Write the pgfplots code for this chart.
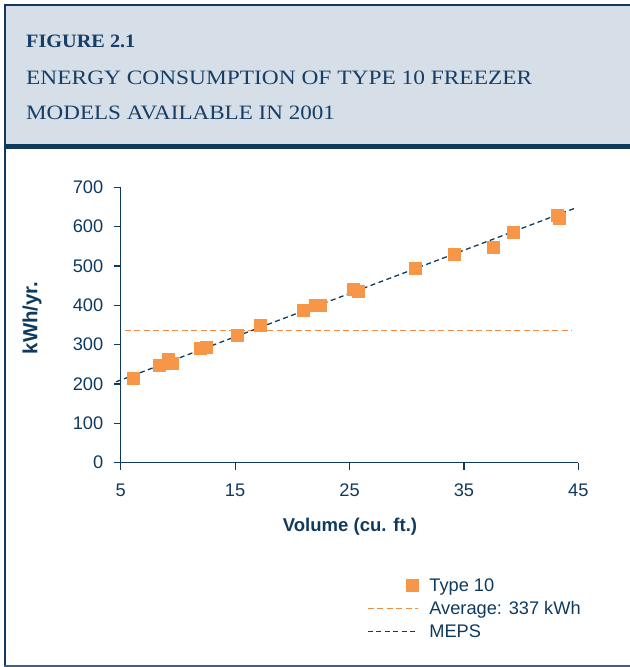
\documentclass[border=0pt]{standalone}
\usepackage{pgfplots}
\pgfplotsset{compat=1.18}
\usepackage{fontspec}
\setmainfont{Liberation Sans}
\newfontfamily\headfont{Liberation Serif}
\definecolor{navy}{RGB}{15,58,94}
\definecolor{headtxt}{RGB}{22,62,102}
\definecolor{orangeM}{RGB}{247,150,70}
\definecolor{avgorange}{RGB}{240,140,70}
\definecolor{headbg}{RGB}{214,223,232}
\pgfplotsset{
  lineleg/.style={legend image code/.code={\draw[##1] (0bp,0bp) -- (50bp,0bp);}},
  sqleg/.style={legend image code/.code={\fill[orangeM] (38bp,-6bp) rectangle (50bp,6bp);}},
}
\begin{document}
\begin{tikzpicture}[x=1bp,y=1bp]
\useasboundingbox (0,0) rectangle (630,667);
% frame and header
\fill[headbg] (5,662) rectangle (630,523);
\draw[navy,line width=1.5bp] (4,662) -- (630,662);
\fill[navy] (5,523) rectangle (630,517.5);
\draw[navy,line width=1.5bp] (5,662.75) -- (5,0.5);
\draw[navy!80,line width=1.5bp] (4.25,1) -- (630,1);
\node[anchor=base west,inner sep=0pt,text=headtxt] at (26,619.7) {\headfont\bfseries\fontsize{19}{22}\selectfont\scalebox{1.07}[1]{FIGURE 2.1}};
\node[anchor=base west,inner sep=0pt,text=headtxt] at (26,582) {\headfont\fontsize{20.5}{24}\selectfont\scalebox{1.145}[1]{ENERGY CONSUMPTION OF TYPE 10 FREEZER}};
\node[anchor=base west,inner sep=0pt,text=headtxt] at (26,547) {\headfont\fontsize{20.5}{24}\selectfont\scalebox{1.13}[1]{MODELS AVAILABLE IN 2001}};
% axis labels
\node[text=navy,inner sep=0pt] at (350,140) {\bfseries\fontsize{18.6}{21}\selectfont Volume (cu. ft.)};
\node[text=navy,inner sep=0pt,rotate=90] at (32,349) {\bfseries\fontsize{20.5}{23}\selectfont kWh/yr.};
\begin{axis}[
  at={(120.7bp,204.3bp)}, anchor=south west,
  scale only axis, width=457.6bp, height=275.4bp,
  xmin=5, xmax=45, ymin=0, ymax=700,
  clip=false,
  axis x line*=bottom, axis y line*=left,
  axis line style={navy,line width=1.3bp,-},
  xtick={5,15,25,35,45}, ytick={0,100,...,700},
  tick align=outside, major tick length=7bp,
  tick style={navy,line width=1.2bp},
  /pgf/number format/assume math mode=true,
  ticklabel style={font=\fontsize{18.3}{21}\selectfont,text=navy},
  xticklabel style={yshift=-11bp},
  yticklabel style={xshift=-7bp},
  legend style={at={(axis description cs:0.538,-0.412)}, anchor=north west,
    draw=none, fill=none, inner sep=0pt, row sep=4.7bp,
    font=\fontsize{18.3}{21}\selectfont, text=navy,
    /tikz/every odd column/.append style={column sep=9bp}},
  legend cell align=left,
]
\addplot[orangeM, only marks, mark=square*, mark size=6bp, mark options={fill=orangeM,draw=none}, sqleg]
  coordinates {
  (6.05,214) (8.35,249) (9.16,262) (9.46,252) (11.93,290) (12.43,293)
  (15.17,324) (17.2,349) (20.94,387) (21.98,400) (22.48,400) (25.28,440)
  (25.74,437) (30.73,495) (34.13,529) (37.54,547) (39.29,585) (43.14,629)
  (43.32,621)};
\addlegendentry{Type 10}
\addplot[avgorange, line width=1.2bp, dash pattern=on 6bp off 3.5bp, lineleg]
  coordinates {(5.35,337) (44.4,337)};
\addlegendentry{Average: 337 kWh}
\addplot[navy, line width=1.3bp, dash pattern=on 5bp off 3.5bp, lineleg]
  coordinates {(4.6,205.6) (44.8,647.8)};
\addlegendentry{MEPS}
\end{axis}
\end{tikzpicture}
\end{document}
